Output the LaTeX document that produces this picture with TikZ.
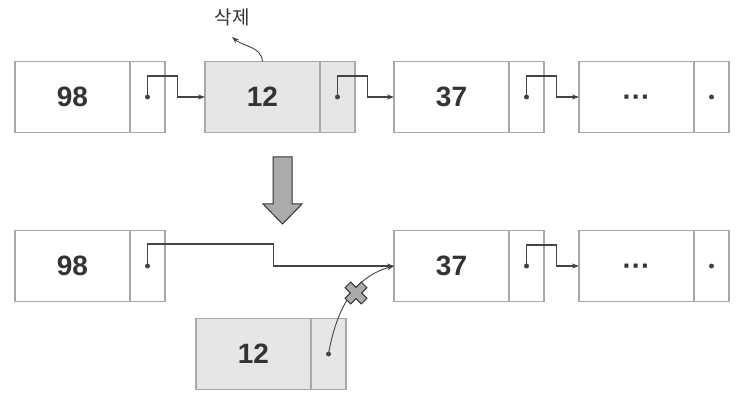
\documentclass[tikz,border=0pt]{standalone}
\usepackage{fontspec}
\setmainfont{Liberation Sans}
\newfontfamily\coreen{Noto Sans CJK KR}
\usetikzlibrary{arrows.meta}
\definecolor{bord}{HTML}{A8A8A8}
\definecolor{trait}{HTML}{444444}
\definecolor{texte}{HTML}{333333}
\definecolor{supprime}{HTML}{E6E6E6}
\definecolor{gris}{HTML}{ABABAB}
\newcommand{\pointsfin}{\vphantom{0}\textperiodcentered\textperiodcentered\textperiodcentered}
\begin{document}
\begin{tikzpicture}[x=1pt,y=1pt]
			\tikzstyle{donnee}=[draw=bord,line width=1.2pt,outer sep=0pt,inner sep=0pt,minimum width=115pt,minimum height=71pt,text=texte,font=\fontsize{28}{28}\selectfont\bfseries]
			\tikzstyle{pointeur}=[draw=bord,line width=1.2pt,outer sep=0pt,inner sep=0pt,minimum width=35pt,minimum height=71pt,anchor=west]
			\tikzstyle{efface}=[fill=supprime]
			\tikzstyle{lien}=[draw=trait,line width=1.1pt,-{Stealth[length=7pt,width=5pt]}]
			\tikzstyle{point}=[fill=trait]
			\tikzstyle{bloc}=[draw=texte,line width=1pt,fill=gris]
			\def\LigneA{-97}\def\LigneB{-266}\def\LigneC{-354}
			\def\Saut{21}\def\Decalage{30}
			\useasboundingbox (0,0) rectangle (744,-406);
			% avant
			\node[donnee] (n98) at (72.5,\LigneA) {98};
			\node[pointeur] (p98) at (n98.east) {};
			\node[donnee,efface] (n12) at (262.5,\LigneA) {12};
			\node[pointeur,efface] (p12) at (n12.east) {};
			\node[donnee] (n37) at (451.5,\LigneA) {37};
			\node[pointeur] (p37) at (n37.east) {};
			\node[donnee] (nfin) at (636.5,\LigneA) {\pointsfin};
			\node[pointeur] (pfin) at (nfin.east) {};
			\foreach \p in {p98,p12,p37,pfin} {\fill[point] (\p.center) circle (2.5);}
			\draw[lien] (p98.center) -- ++(0,\Saut) -| ++(\Decalage,-\Saut) -- (n12.west);
			\draw[lien] (p12.center) -- ++(0,\Saut) -| ++(\Decalage,-\Saut) -- (n37.west);
			\draw[lien] (p37.center) -- ++(0,\Saut) -| ++(\Decalage,-\Saut) -- (nfin.west);
			\node[text=texte,font=\coreen\fontsize{19}{19}\selectfont] (etiq) at (232,-17) {삭제};
			\coordinate (pointe) at (232,-37);
			\draw[lien,line width=0.9pt] (n12.north) to[out=95,in=-40] (pointe);
			% fleche
			\draw[bloc] (273,-157) -- (292,-157) -- (292,-204) -- (302,-204) -- (282.5,-224) -- (263,-204) -- (273,-204) -- cycle;
			% apres
			\node[donnee] (m98) at (72.5,\LigneB) {98};
			\node[pointeur] (q98) at (m98.east) {};
			\node[donnee] (m37) at (451.5,\LigneB) {37};
			\node[pointeur] (q37) at (m37.east) {};
			\node[donnee] (mfin) at (636.5,\LigneB) {\pointsfin};
			\node[pointeur] (qfin) at (mfin.east) {};
			\node[donnee,efface] (m12) at (253.5,\LigneC) {12};
			\node[pointeur,efface] (q12) at (m12.east) {};
			\foreach \p in {q98,q37,qfin,q12} {\fill[point] (\p.center) circle (2.5);}
			\draw[lien] (q98.center) -- ++(0,22) -| ++(126,-22) -- (m37.west);
			\draw[lien] (q37.center) -- ++(0,\Saut) -| ++(\Decalage,-\Saut) -- (mfin.west);
			\draw[lien,line width=0.9pt] (q12.center) to[out=80,in=195] (m37.west);
			\coordinate (croix) at (356,-293);
			\begin{scope}[shift={(croix)},rotate=45]
				\draw[bloc] (-4,-11.5) -- (4,-11.5) -- (4,-4) -- (11.5,-4) -- (11.5,4) -- (4,4) -- (4,11.5) -- (-4,11.5) -- (-4,4) -- (-11.5,4) -- (-11.5,-4) -- (-4,-4) -- cycle;
			\end{scope}
		\end{tikzpicture}
\end{document}
